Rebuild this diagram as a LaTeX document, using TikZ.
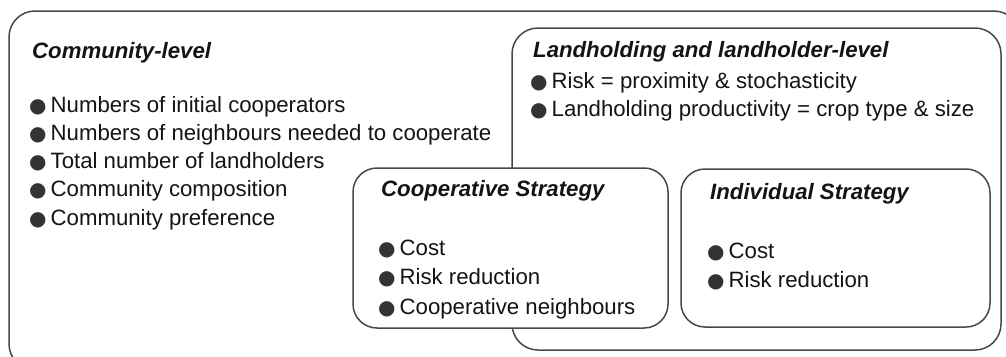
\documentclass[tikz,border=0pt]{standalone}
\usepackage{fontspec}
\setmainfont{Liberation Sans}
\newfontfamily\dotfont{DejaVu Sans}
\usetikzlibrary{positioning}

\newcommand{\dotmark}{{\dotfont\fontsize{20}{20}\selectfont\color{black!80}●}\hspace{4pt}}

\begin{document}
\begin{tikzpicture}[x=1pt, y=-1pt,
    box/.style={draw=black!72, line width=1.5pt, fill=white, inner sep=0pt, rounded corners=26pt},
    smallbox/.style={box, rounded corners=24pt},
    title/.style={anchor=base west, inner sep=0pt, text=black!92, font=\fontsize{22.2}{26}\selectfont\bfseries\itshape},
    item/.style={anchor=base west, inner sep=0pt, text=black!92, font=\fontsize{22.2}{26}\selectfont}]
    \clip (0,0) rectangle (1006,356);
    \useasboundingbox (0,0) rectangle (1006,356);
    % boxes
    \node[box, minimum width=1011pt, minimum height=359pt] (comm) at (514.5,190.5) {};
    \node[box, minimum width=489pt, minimum height=322pt] (land) at (756.5,189) {};
    \node[smallbox, minimum width=315pt, minimum height=160pt] (coop) at (510.5,248) {};
    \node[smallbox, minimum width=309pt, minimum height=158pt] (indiv) at (835.5,248) {};
    % titles
    \node[title] (comm-title) at (32,58) {Community-level};
    \node[title] (land-title) at (533,57) {Landholding and landholder-level};
    \node[title] (coop-title) at (381,196) {Cooperative Strategy};
    \node[title] (indiv-title) at (710,199) {Individual Strategy};
    % items
    \foreach \t [count=\i] in {Numbers of initial cooperators, Numbers of neighbours needed to cooperate,
        Total number of landholders, Community composition, Community preference}
        \node[item] (comm-\i) at (29,{112+28.3*(\i-1)}) {\dotmark\t};
    \foreach \t [count=\i] in {Risk = proximity \& stochasticity, Landholding productivity = crop type \& size}
        \node[item] (land-\i) at (530,{88+28*(\i-1)}) {\dotmark\t};
    \foreach \t [count=\i] in {Cost, Risk reduction, Cooperative neighbours}
        \node[item] (coop-\i) at (378,{255+29.5*(\i-1)}) {\dotmark\t};
    \foreach \t [count=\i] in {Cost, Risk reduction}
        \node[item] (indiv-\i) at (707,{258+29*(\i-1)}) {\dotmark\t};
\end{tikzpicture}
\end{document}
